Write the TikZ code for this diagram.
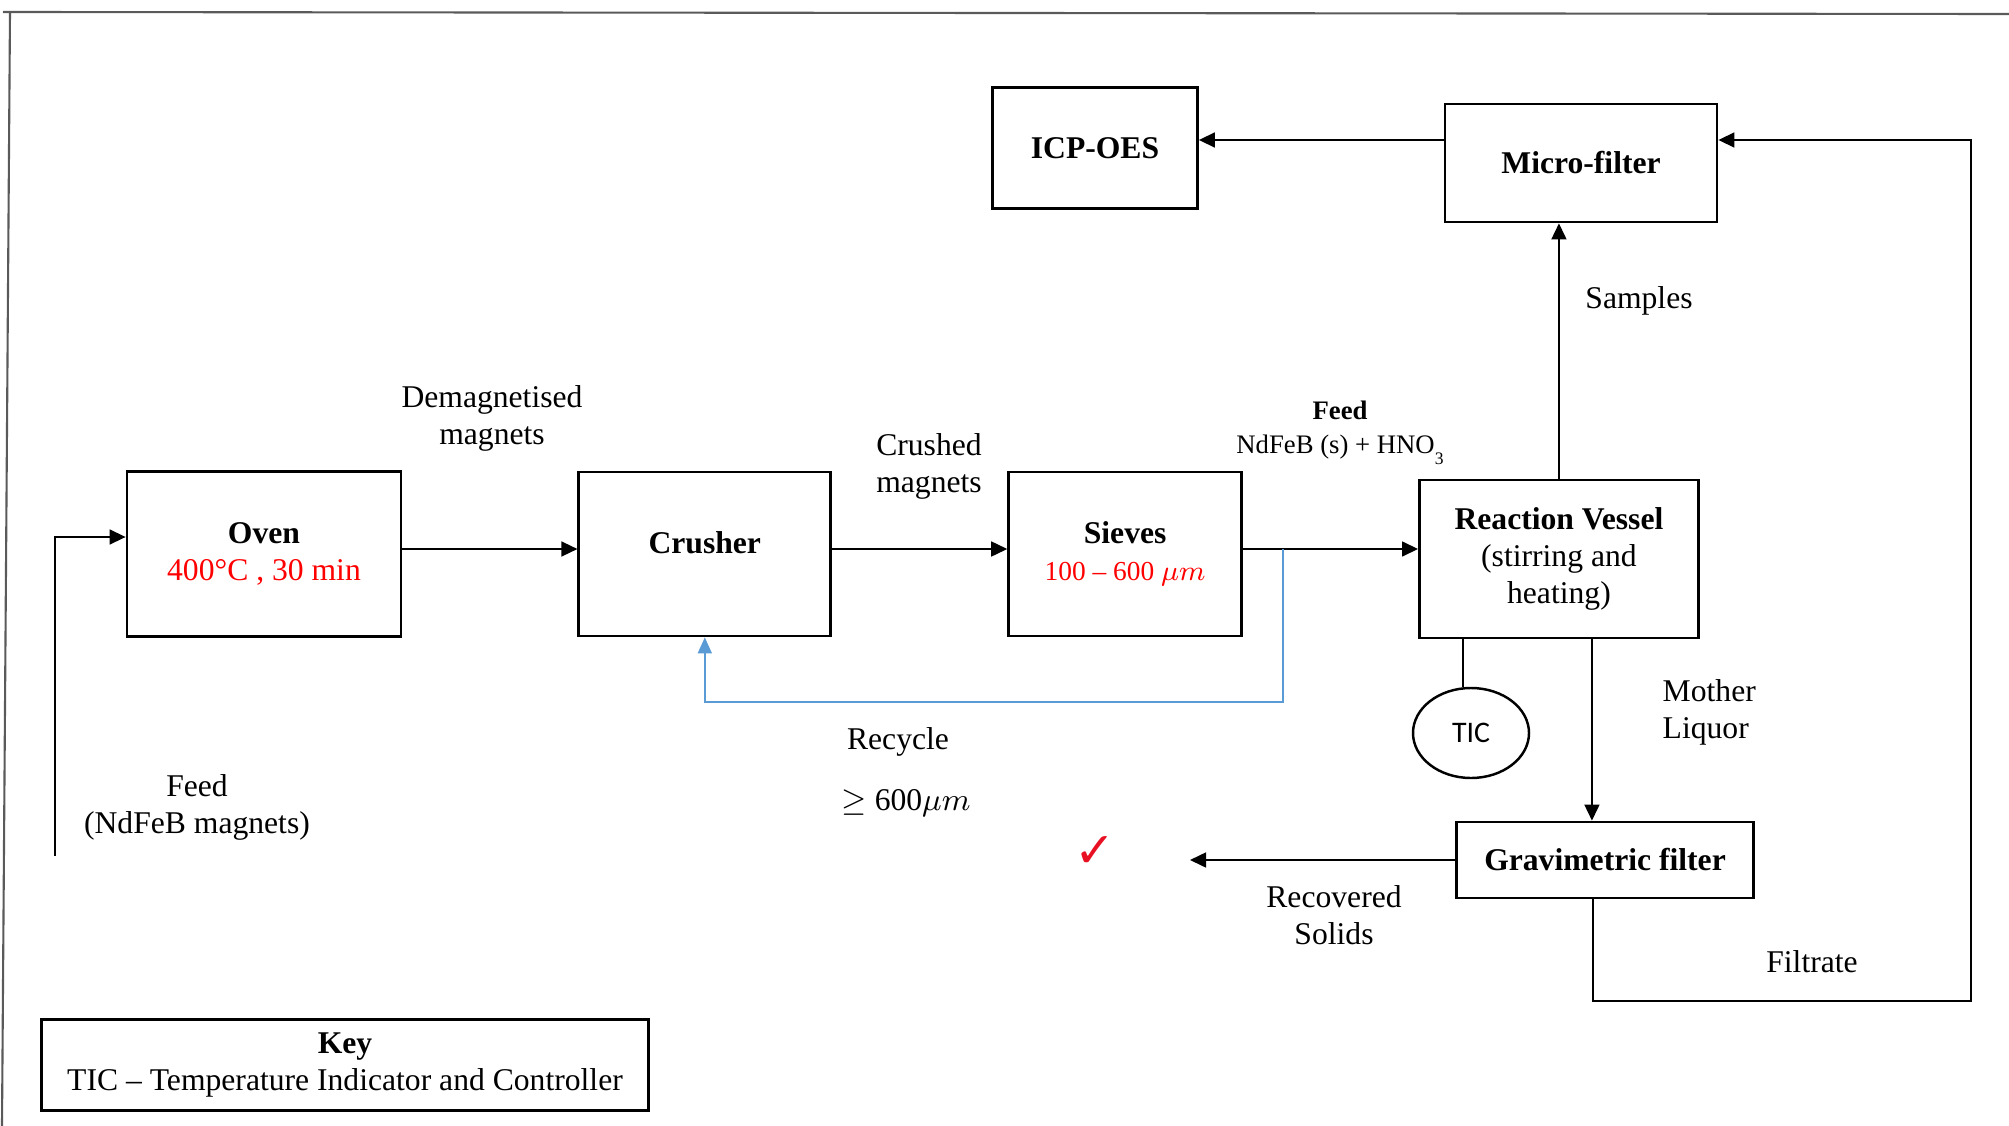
\documentclass[tikz,border=0pt]{standalone}
\usepackage{fontspec}
\setmainfont{Liberation Serif}
\newfontfamily\ticfont{Carlito}
\newfontfamily\symfont{DejaVu Sans}
\usepackage{tikz}
\usetikzlibrary{arrows.meta, positioning, shapes.geometric}
\definecolor{recycleblue}{RGB}{91,155,213}
\definecolor{condred}{RGB}{255,0,0}
\definecolor{tickred}{RGB}{232,17,35}
\definecolor{framegray}{RGB}{90,90,90}
\tikzset{
  unitbox/.style={
    rectangle,
    draw=black,
    line width=0.8pt,
    align=center,
    inner sep=0pt,
    font=\fontsize{9}{10.5}\selectfont
  },
  ticbubble/.style={
    ellipse,
    draw=black,
    line width=0.7pt,
    minimum width=1.16cm,
    minimum height=0.90cm,
    inner sep=0pt,
    font=\ticfont\fontsize{8.5}{10}\selectfont
  },
  note/.style={
    align=center,
    inner sep=0pt,
    font=\fontsize{9}{10.5}\selectfont
  },
  arrow/.style={-{Triangle[length=1.6mm, width=1.5mm]}, line width=0.45pt},
  plainline/.style={line width=0.45pt},
  recycle/.style={-{Triangle[length=1.6mm, width=1.4mm]}, line width=0.5pt, draw=recycleblue}
}

\begin{document}
\begin{tikzpicture}[node distance=1.75cm]
  \useasboundingbox (0,0) rectangle (20.09,-11.26);
  % page frame
  \draw[framegray, line width=0.6pt] (0.03,-0.12) -- (20.09,-0.14);
  \draw[framegray, line width=0.6pt] (0.10,-0.12) -- (0.02,-11.26);

  % main line
  \node[unitbox, minimum width=2.74cm, minimum height=1.65cm] (oven) at (2.64,-5.54)
    {\textbf{Oven}\\\textcolor{condred}{400°C , 30 min}};
  \node[unitbox, minimum width=2.52cm, minimum height=1.64cm, right=of oven] (crusher) {\textbf{Crusher}\\[-0.25cm]\strut};
  \node[unitbox, minimum width=2.33cm, minimum height=1.64cm, right=of crusher] (sieves)
    {\textbf{Sieves}\\\textcolor{condred}{\fontsize{7.8}{10}\selectfont 100 -- 600 $\mu m$}};
  \node[unitbox, minimum width=2.79cm, minimum height=1.58cm, right=of sieves, yshift=-0.05cm] (rv)
    {\textbf{Reaction Vessel}\\(stirring and\\heating)};

  % analysis and filtration
  \node[unitbox, minimum width=2.05cm, minimum height=1.21cm] (icp) at (10.95,-1.48) {\textbf{ICP-OES}};
  \node[unitbox, minimum width=2.72cm, minimum height=1.18cm] (mf) at (15.81,-1.63) {\textbf{Micro-filter}};
  \node[unitbox, minimum width=2.97cm, minimum height=0.76cm] (gf) at (16.05,-8.60) {\textbf{Gravimetric filter}};
  \node[ticbubble] (tic) at (14.71,-7.33) {TIC};
  \node[text=tickred, font=\symfont\fontsize{14}{14}\selectfont, inner sep=0pt] (check) at (10.95,-8.52) {✓};

  % key
  \node[unitbox, minimum width=6.07cm, minimum height=0.91cm] (key) at (3.45,-10.65)
    {\textbf{Key}\\TIC -- Temperature Indicator and Controller};

  % stream labels
  \node[note] (demag) at (4.92,-4.18) {Demagnetised\\magnets};
  \node[note] (crushed) at (9.29,-4.66) {Crushed\\magnets};
  \node[note, font=\fontsize{7.6}{9.6}\selectfont] (rvfeed) at (13.40,-4.33)
    {\textbf{Feed}\\NdFeB (s) + HNO\raisebox{-0.9ex}{\fontsize{5}{5}\selectfont 3}};
  \node[note] (samples) at (16.39,-3.01) {Samples};
  \node[note, align=left, anchor=west] (mother) at (16.62,-7.12) {Mother\\Liquor};
  \node[note] (recyclelbl) at (8.98,-7.42) {Recycle};
  \node[note] (cutsize) at (9.06,-8.03) {$\geq$ 600$\mu m$};
  \node[note] (feedlbl) at (1.97,-8.07) {Feed\\(NdFeB magnets)};
  \node[note] (recovered) at (13.34,-9.15) {Recovered\\Solids};
  \node[note] (filtrate) at (18.12,-9.62) {Filtrate};

  \coordinate (feedin) at (0.55,-8.56);
  \coordinate (rsplit) at (12.83,-5.49);
  \coordinate (solids) at (11.90,-8.52);
  \coordinate (floop) at (19.71,-10.01);

  % connectors
  \draw[arrow] (feedin) |- ([yshift=0.17cm]oven.west);
  \draw[arrow] ([yshift=0.05cm]oven.east) -- ([yshift=0.05cm]oven.east -| crusher.west);
  \draw[arrow] ([yshift=0.05cm]crusher.east) -- ([yshift=0.05cm]crusher.east -| sieves.west);
  \draw[arrow] ([yshift=0.05cm]sieves.east) -- ([yshift=0.05cm]sieves.east -| rv.west);
  \draw[recycle] (rsplit) -- ++(0,-1.53) -| (crusher.south);
  \draw[arrow] (rv.north) -- (rv.north |- mf.south);
  \draw[arrow] ([yshift=0.23cm]mf.west) -- ([yshift=0.23cm]mf.west -| icp.east);
  \draw[plainline] (tic.100) -- (tic.100 |- rv.south);
  \draw[arrow] ([xshift=0.33cm]rv.south) -- ([xshift=0.33cm]rv.south |- gf.north);
  \draw[arrow] (gf.west) -- (gf.west -| solids);
  \draw[arrow] ([xshift=-0.12cm]gf.south) |- (floop) |- ([yshift=0.23cm]mf.east);
\end{tikzpicture}
\end{document}
